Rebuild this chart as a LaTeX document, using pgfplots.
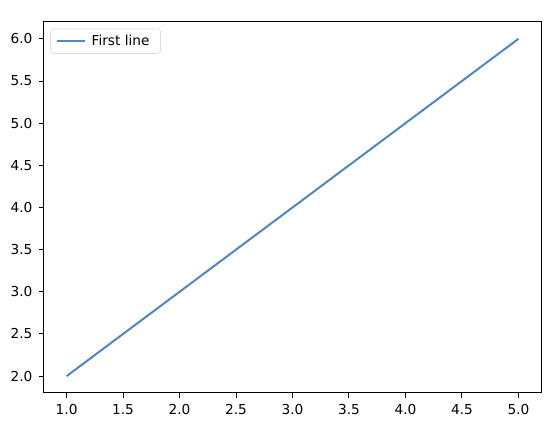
\documentclass[border=0pt]{standalone}
\usepackage{pgfplots}
\pgfplotsset{compat=1.18}
\usepackage{fontspec}
\setmainfont{DejaVu Sans}
\definecolor{lineblue}{HTML}{4F87C2}
\begin{document}
\fontsize{13.7}{16}\selectfont
\begin{tikzpicture}
\begin{axis}[
    at={(0,0)}, anchor=south west,
    scale only axis,
    width=497pt, height=371pt,
    xmin=0.8, xmax=5.2,
    ymin=1.8, ymax=6.2,
    xtick={1,1.5,...,5},
    ytick={2,2.5,...,6},
    /pgf/number format/fixed,
    /pgf/number format/fixed zerofill,
    /pgf/number format/precision=1,
    /pgf/number format/assume math mode=true,
    tick align=outside,
    tick pos=left,
    major tick length=4.9pt,
    tick style={black, line width=1pt},
    axis line style={line width=1pt},
    ticklabel style={font=\fontsize{13.7}{16}\selectfont},
    xticklabel style={yshift=-2pt},
    yticklabel style={xshift=-2pt},
    legend style={font=\fontsize{13.7}{16}\selectfont, draw=black!20, rounded corners=3pt,
        at={(0.013,0.982)}, anchor=north west, inner xsep=5pt, inner ysep=4pt,
        nodes={inner xsep=6pt}},
    legend cell align=left,
    legend image code/.code={
        \draw[#1, line width=2pt] (0pt,0pt) -- (28pt,0pt);
    },
]
\addplot[color=lineblue, line width=2pt] coordinates {
    (1,2)(2,3)(3,4)(4,5)(5,6)
};
\legend{First line}
\end{axis}
\path (-44pt,-37pt) rectangle (515pt,393pt);
\end{tikzpicture}
\end{document}
